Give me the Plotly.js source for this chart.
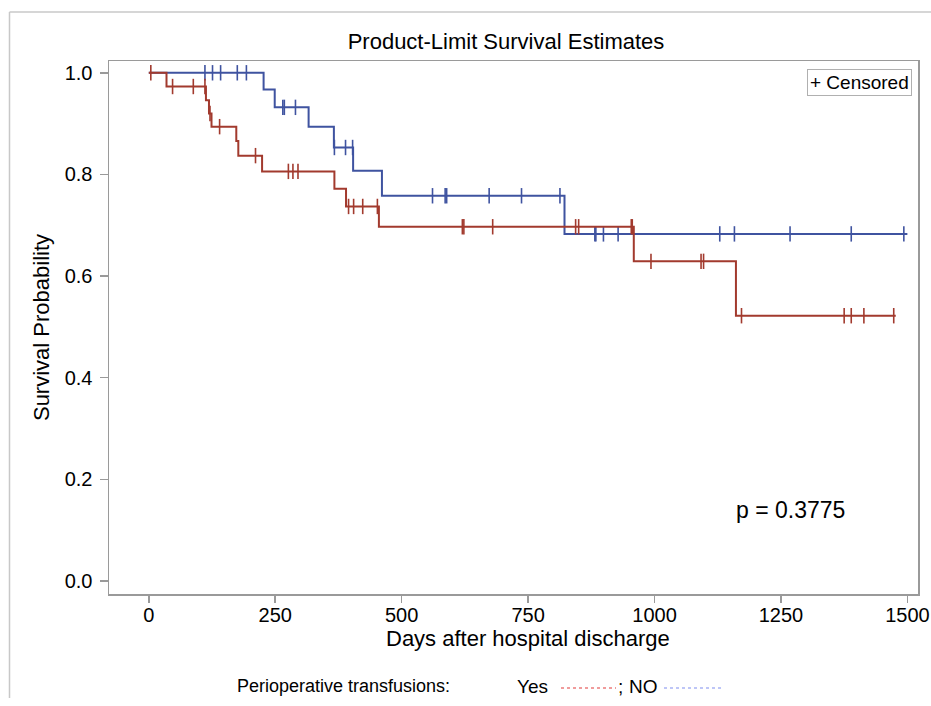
<!DOCTYPE html>
<html>
<head>
<meta charset="utf-8">
<script src="https://cdn.plot.ly/plotly-3.0.1.min.js"></script>
<style>html,body{margin:0;padding:0;background:#fff;}#chart{width:931px;height:706px;}</style>
</head>
<body>
<div id="chart"></div>
<script>
// Group "Yes" (perioperative transfusions) - red
const redEventDays = [0, 35, 113, 119, 124, 173, 177, 224, 367, 390, 455, 959, 1161, 1477];
const redSurvival  = [1.0, 0.973, 0.946, 0.920, 0.894, 0.866, 0.837, 0.806, 0.772, 0.737, 0.697, 0.629, 0.522, 0.522];
const redCensoredDays = [4, 47, 88, 111, 121, 140, 211, 276, 285, 295, 395, 405, 423, 452, 620, 623, 680, 844, 850, 954, 956, 993, 1092, 1097, 1172, 1375, 1389, 1414, 1473];

// Group "NO" - blue
const blueEventDays = [0, 227, 249, 316, 366, 404, 461, 822, 1500];
const blueSurvival  = [1.0, 0.967, 0.932, 0.894, 0.853, 0.807, 0.758, 0.683, 0.683];
const blueCensoredDays = [111, 126, 142, 175, 193, 265, 268, 290, 367, 389, 403, 561, 586, 589, 673, 737, 813, 882, 884, 899, 928, 1129, 1158, 1268, 1389, 1493];

const xTickVals = [0, 250, 500, 750, 1000, 1250, 1500];
const yTickVals = [0.0, 0.2, 0.4, 0.6, 0.8, 1.0];

const titleText = 'Product-Limit Survival Estimates';
const xTitle = 'Days after hospital discharge';
const yTitle = 'Survival Probability';
const pText = 'p = 0.3775';

function survAt(days, surv, t) {
  let s = surv[0];
  for (let i = 0; i < days.length; i++) { if (days[i] <= t) s = surv[i]; }
  return s;
}

const RED = '#a23a2e';
const BLUE = '#3f53a0';
const AX = '#9a9a9a';
const FONT = 'Liberation Sans, Arial, sans-serif';

const traces = [
  {x: blueEventDays, y: blueSurvival, mode: 'lines', line: {shape: 'hv', color: BLUE, width: 2}, hoverinfo: 'skip'},
  {x: blueCensoredDays, y: blueCensoredDays.map(t => survAt(blueEventDays, blueSurvival, t)), mode: 'markers',
   marker: {symbol: 'line-ns-open', size: 11, color: BLUE, line: {color: BLUE, width: 1.6}}, hoverinfo: 'skip'},
  {x: redEventDays, y: redSurvival, mode: 'lines', line: {shape: 'hv', color: RED, width: 2}, hoverinfo: 'skip'},
  {x: redCensoredDays, y: redCensoredDays.map(t => survAt(redEventDays, redSurvival, t)), mode: 'markers',
   marker: {symbol: 'line-ns-open', size: 11, color: RED, line: {color: RED, width: 1.6}}, hoverinfo: 'skip'}
];

const layout = {
  width: 931, height: 706,
  margin: {l: 109, r: 13, t: 61, b: 112},
  paper_bgcolor: '#fff', plot_bgcolor: '#fff',
  showlegend: false,
  font: {family: FONT, color: '#000', size: 20},
  title: {text: titleText, font: {size: 22, family: FONT, color: '#000'}, xref: 'container', x: 0.5435, xanchor: 'center', yref: 'container', y: 1 - 41/706, yanchor: 'middle'},
  xaxis: {
    range: [-78.7, 1521], tickvals: xTickVals, ticktext: xTickVals.map(String),
    ticks: 'outside', ticklen: 7, tickwidth: 1.5, tickcolor: AX, ticklabelstandoff: -5,
    showline: true, linecolor: AX, linewidth: 1.5, mirror: true,
    showgrid: false, zeroline: false, tickfont: {size: 20}
  },
  yaxis: {
    range: [-0.0256, 1.0232], tickvals: yTickVals, tickformat: '.1f',
    ticks: 'outside', ticklen: 8, tickwidth: 1.5, tickcolor: AX, ticklabelstandoff: 3,
    showline: true, linecolor: AX, linewidth: 1.5, mirror: true,
    showgrid: false, zeroline: false, tickfont: {size: 20},
    title: {text: yTitle, font: {size: 22}, standoff: 9}
  },
  annotations: [
    {xref: 'paper', yref: 'paper', x: (528-109)/809, y: (594-638)/533, xanchor: 'center', yanchor: 'middle', text: xTitle, showarrow: false, font: {size: 22}},
    {xref: 'paper', yref: 'paper', x: 0.9926, y: 0.985, xanchor: 'right', yanchor: 'top', text: '+ Censored', showarrow: false,
     font: {size: 19}, bordercolor: '#b0b0b0', borderwidth: 1, borderpad: 2, bgcolor: '#fff'},
    {xref: 'x', yref: 'y', x: 1157, y: 0.140, xanchor: 'left', yanchor: 'middle', text: pText, showarrow: false, font: {size: 23}},
    {xref: 'paper', yref: 'paper', x: (235-109)/809, y: (594-686)/533, xanchor: 'left', yanchor: 'middle', text: 'Perioperative transfusions:', showarrow: false, font: {size: 18}},
    {xref: 'paper', yref: 'paper', x: (515-109)/809, y: (594-686)/533, xanchor: 'left', yanchor: 'middle', text: 'Yes', showarrow: false, font: {size: 19}},
    {xref: 'paper', yref: 'paper', x: (616-109)/809, y: (594-686)/533, xanchor: 'left', yanchor: 'middle', text: ';', showarrow: false, font: {size: 19}},
    {xref: 'paper', yref: 'paper', x: (627-109)/809, y: (594-686)/533, xanchor: 'left', yanchor: 'middle', text: 'NO', showarrow: false, font: {size: 19}}
  ],
  shapes: [
    {type: 'line', xref: 'paper', yref: 'paper', x0: (561-109)/809, x1: (616-109)/809, y0: (594-688)/533, y1: (594-688)/533, line: {color: '#e23a3a', width: 1.2, dash: 'dot'}},
    {type: 'line', xref: 'paper', yref: 'paper', x0: (664-109)/809, x1: (723-109)/809, y0: (594-688)/533, y1: (594-688)/533, line: {color: '#7f8ef0', width: 1.2, dash: 'dot'}},
    {type: 'line', xref: 'paper', yref: 'paper', x0: (9.5-109)/809, x1: (9.5-109)/809, y0: (594-12)/533, y1: (594-698)/533, line: {color: '#c8c8c8', width: 1.5}},
    {type: 'line', xref: 'paper', yref: 'paper', x0: (9.5-109)/809, x1: (935-109)/809, y0: (594-12)/533, y1: (594-12)/533, line: {color: '#c8c8c8', width: 1.5}}
  ]
};

Plotly.newPlot('chart', traces, layout, {displayModeBar: false, staticPlot: true});
</script>
</body>
</html>
